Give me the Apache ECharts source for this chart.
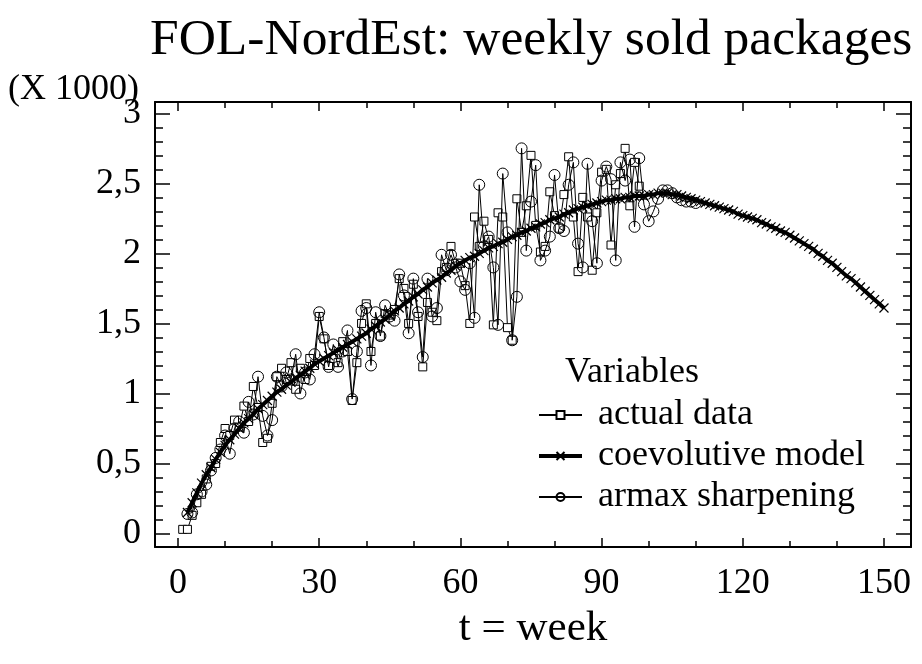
<!DOCTYPE html>
<html>
<head>
<meta charset="utf-8">
<script src="https://cdn.jsdelivr.net/npm/echarts@6/dist/echarts.min.js"></script>
<style>
    html, body { margin: 0; padding: 0; background: #fff; }
    #chart { width: 922px; height: 664px; }
</style>
</head>
<body>
<div id="chart"></div>
<script>
// weekly sold packages (x 1000)
var actualStart = 1;
var actualData = [
    0.03, 0.03, 0.13, 0.22, 0.28, 0.39, 0.48, 0.50, 0.65, 0.75,
    0.70, 0.81, 0.76, 0.91, 0.80, 1.05, 0.90, 0.65, 0.68, 0.93,
    1.12, 1.18, 1.10, 1.22, 1.03, 1.18, 1.10, 1.25, 1.20, 1.55,
    1.39, 1.20, 1.25, 1.22, 1.37, 1.30, 0.95, 1.22, 1.50, 1.64,
    1.30, 1.50, 1.41, 1.57, 1.56, 1.60, 1.82, 1.75, 1.50, 1.78,
    1.55, 1.19, 1.65, 1.58, 1.52, 1.87, 1.90, 2.05, 1.93, 1.93,
    1.77, 1.50, 2.26, 2.05, 2.23, 2.10, 1.49, 2.29, 2.26, 1.47,
    1.38, 2.39, 2.15, 2.34, 2.70, 2.20, 2.01, 2.05, 2.44, 2.27,
    2.18, 2.42, 2.69, 2.26, 1.87, 2.40, 2.26, 1.88, 2.29, 2.58,
    2.60, 2.06, 2.49, 2.57, 2.75, 2.34, 2.65, 2.48
];

var armaxStart = 2;
var armaxData = [
    0.14, 0.15, 0.28, 0.30, 0.35, 0.45, 0.54, 0.60, 0.70,
    0.57, 0.75, 0.80, 0.72, 0.94, 0.85, 1.12, 0.84, 0.70, 0.81,
    1.12, 1.05, 1.15, 1.10, 1.28, 1.00, 1.15, 1.10, 1.28, 1.58,
    1.40, 1.19, 1.35, 1.19, 1.30, 1.45, 0.96, 1.30, 1.59, 1.61,
    1.20, 1.58, 1.41, 1.63, 1.55, 1.52, 1.85, 1.70, 1.43, 1.82,
    1.58, 1.26, 1.82, 1.55, 1.61, 1.99, 1.88, 1.99, 1.90, 1.80,
    1.74, 1.93, 1.54, 2.49, 2.05, 2.12, 1.90, 1.49, 2.57, 2.15,
    1.38, 1.69, 2.75, 2.02, 2.37, 2.63, 1.95, 2.02, 2.12, 2.56,
    2.18, 2.16, 2.49, 2.65, 2.07, 1.90, 2.64, 2.23, 1.93, 2.52,
    2.62, 2.53, 1.95, 2.65, 2.52, 2.67, 2.19, 2.68, 2.35, 2.23,
    2.30, 2.39, 2.45, 2.45, 2.43, 2.40, 2.38, 2.37, 2.37, 2.36
];

var modelStart = 2;
var modelData = [
    0.15, 0.22, 0.29, 0.36, 0.42, 0.47, 0.53, 0.58, 0.63,
    0.67, 0.71, 0.75, 0.79, 0.82, 0.85, 0.89, 0.92, 0.95, 0.98,
    1.01, 1.03, 1.06, 1.08, 1.11, 1.13, 1.16, 1.18, 1.21, 1.23,
    1.25, 1.27, 1.29, 1.31, 1.33, 1.35, 1.37, 1.39, 1.41, 1.43,
    1.46, 1.48, 1.51, 1.53, 1.56, 1.59, 1.61, 1.64, 1.66, 1.69,
    1.71, 1.74, 1.76, 1.79, 1.81, 1.83, 1.86, 1.88, 1.91, 1.93,
    1.95, 1.97, 1.98, 2.00, 2.02, 2.04, 2.05, 2.07, 2.08, 2.10,
    2.12, 2.13, 2.15, 2.16, 2.18, 2.19, 2.21, 2.22, 2.24, 2.25,
    2.26, 2.28, 2.29, 2.31, 2.32, 2.33, 2.34, 2.35, 2.36, 2.37,
    2.38, 2.38, 2.39, 2.39, 2.40, 2.40, 2.41, 2.41, 2.41, 2.42,
    2.42, 2.43, 2.43, 2.43, 2.42, 2.42, 2.41, 2.40, 2.39, 2.38,
    2.37, 2.36, 2.35, 2.34, 2.33, 2.32, 2.31, 2.30, 2.28, 2.27,
    2.26, 2.25, 2.24, 2.22, 2.21, 2.19, 2.18, 2.16, 2.15, 2.13,
    2.11, 2.09, 2.07, 2.05, 2.03, 2.00, 1.98, 1.95, 1.93, 1.90,
    1.87, 1.84, 1.82, 1.79, 1.76, 1.73, 1.70, 1.67, 1.64, 1.61
];

var xLabels = [0, 30, 60, 90, 120, 150];
var xMinor = [10, 20, 40, 50, 70, 80, 100, 110, 130, 140];
var yLabels = [0, 0.5, 1, 1.5, 2, 2.5, 3];
var yMinor = [0.1, 0.2, 0.3, 0.4, 0.6, 0.7, 0.8, 0.9, 1.1, 1.2, 1.3, 1.4,
    1.6, 1.7, 1.8, 1.9, 2.1, 2.2, 2.3, 2.4, 2.6, 2.7, 2.8, 2.9];

// visible range of the frame (a bit wider than the data range)
var xMin = -4.89, xMax = 155.74;
var yMin = -0.096, yMax = 3.081;

function toPairs(start, values) {
    var out = [];
    for (var i = 0, l = values.length; i < l; i++) {
        out.push([start + i, values[i]]);
    }
    return out;
}

var FONT = 'Liberation Serif';
var chart = echarts.init(document.getElementById('chart'));

var tickLine = {color: '#000', width: 1.5};

function xAx(grid, pos, ticks, len, labels) {
    return {
        gridIndex: grid, type: 'value', min: xMin, max: xMax, position: pos,
        axisLine: {show: grid === 0, onZero: false, lineStyle: {color: '#000', width: 2}},
        axisTick: {inside: true, length: len, customValues: ticks, lineStyle: tickLine},
        splitLine: {show: false},
        axisLabel: labels ? {
            customValues: labels, fontFamily: FONT, fontSize: 36, color: '#000', margin: 19
        } : {show: false}
    };
}

function yAx(grid, pos, ticks, len, labels) {
    return {
        gridIndex: grid, type: 'value', min: yMin, max: yMax, position: pos,
        axisLine: {show: grid === 0, onZero: false, lineStyle: {color: '#000', width: 2}},
        axisTick: {inside: true, length: len, customValues: ticks, lineStyle: tickLine},
        splitLine: {show: false},
        axisLabel: labels ? {
            customValues: labels, fontFamily: FONT, fontSize: 36, color: '#000', margin: 14,
            formatter: function (v) { return String(v).replace('.', ','); }
        } : {show: false}
    };
}

var bottomAxis = xAx(0, 'bottom', xLabels, 9, xLabels);
bottomAxis.name = 't = week';
bottomAxis.nameLocation = 'middle';
bottomAxis.nameGap = 55;
bottomAxis.nameTextStyle = {fontFamily: FONT, fontSize: 43, color: '#000'};

option = {
    backgroundColor: '#fff',
    animation: false,
    textStyle: {fontFamily: FONT, color: '#000'},
    title: [
        {
            text: 'FOL-NordEst: weekly sold packages',
            left: 145, top: 9,
            textStyle: {fontFamily: FONT, fontSize: 51.5, fontWeight: 'normal', color: '#000'}
        },
        {
            text: '(X 1000)',
            left: 3, top: 67,
            textStyle: {fontFamily: FONT, fontSize: 36, fontWeight: 'normal', color: '#000'}
        },
        {
            text: 'Variables',
            left: 560, top: 350,
            textStyle: {fontFamily: FONT, fontSize: 36, fontWeight: 'normal', color: '#000'}
        }
    ],
    legend: {
        orient: 'vertical',
        left: 532, top: 392,
        itemWidth: 43, itemHeight: 10,
        itemGap: 5,
        data: [
            {name: 'actual data'},
            {name: 'coevolutive model', lineStyle: {width: 4}},
            {name: 'armax sharpening'}
        ],
        textStyle: {fontFamily: FONT, fontSize: 36, color: '#000', lineHeight: 36,
            padding: [0, 0, 0, 11]}
    },
    grid: [
        {left: 155, right: 11, top: 102, bottom: 117},
        {left: 155, right: 11, top: 102, bottom: 117}
    ],
    xAxis: [
        bottomAxis,
        xAx(0, 'top', xLabels, 9, null),
        xAx(1, 'bottom', xMinor, 6, null),
        xAx(1, 'top', xMinor, 6, null)
    ],
    yAxis: [
        yAx(0, 'left', yLabels, 15, yLabels),
        yAx(0, 'right', yLabels, 15, null),
        yAx(1, 'left', yMinor, 8, null),
        yAx(1, 'right', yMinor, 8, null)
    ],
    series: [
        {
            name: 'actual data', type: 'line',
            xAxisIndex: 0, yAxisIndex: 0,
            data: toPairs(actualStart, actualData),
            symbol: 'rect', symbolSize: 8, showAllSymbol: true,
            lineStyle: {color: '#000', width: 1},
            itemStyle: {color: '#fff', borderColor: '#000', borderWidth: 1},
            z: 2
        },
        {
            name: 'coevolutive model', type: 'line',
            xAxisIndex: 0, yAxisIndex: 0,
            data: toPairs(modelStart, modelData),
            symbol: 'path://M0,0L10,10M10,0L0,10', symbolSize: 9, showAllSymbol: true,
            lineStyle: {color: '#000', width: 4},
            itemStyle: {color: 'none', borderColor: '#000', borderWidth: 1.2},
            z: 4
        },
        {
            name: 'armax sharpening', type: 'line',
            xAxisIndex: 0, yAxisIndex: 0,
            data: toPairs(armaxStart, armaxData),
            symbol: 'circle', symbolSize: 11, showAllSymbol: true,
            lineStyle: {color: '#000', width: 1},
            itemStyle: {color: 'rgba(255,255,255,0)', borderColor: '#000', borderWidth: 1},
            z: 3
        }
    ]
};
chart.setOption(option);
</script>
</body>
</html>
